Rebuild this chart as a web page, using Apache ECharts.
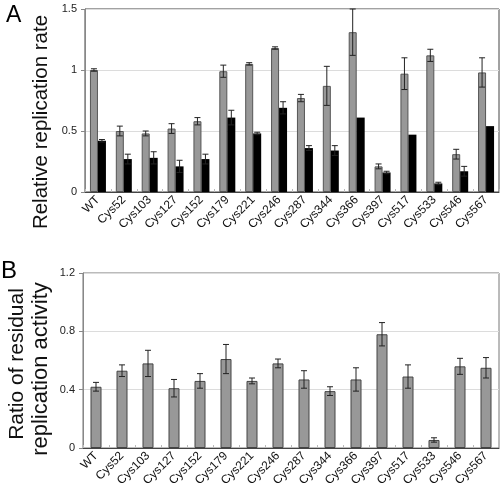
<!DOCTYPE html>
<html>
<head>
<meta charset="utf-8">
<script src="https://cdn.jsdelivr.net/npm/echarts@6/dist/echarts.min.js"></script>
<style>html,body{margin:0;padding:0;background:#fff}#c{width:500px;height:490px}</style>
</head>
<body>
<div id="c"></div>
<script>
var categories = ['WT','Cys52','Cys103','Cys127','Cys152','Cys179','Cys221','Cys246','Cys287','Cys344','Cys366','Cys397','Cys517','Cys533','Cys546','Cys567'];
var rateGray = [1.00,0.50,0.48,0.52,0.58,0.99,1.05,1.18,0.77,0.87,1.31,0.21,0.97,1.12,0.31,0.98];
var rateGrayErr = [0.01,0.04,0.02,0.04,0.03,0.05,0.01,0.01,0.03,0.16,0.19,0.02,0.13,0.05,0.04,0.12];
var rateBlack = [0.42,0.27,0.28,0.21,0.27,0.61,0.48,0.69,0.36,0.34,0.61,0.16,0.47,0.07,0.17,0.54];
var rateBlackErr = [0.01,0.04,0.05,0.05,0.04,0.06,0.01,0.05,0.02,0.04,0,0.01,0,0.01,0.04,0];
var ratio = [0.42,0.53,0.58,0.41,0.46,0.61,0.46,0.58,0.47,0.39,0.47,0.78,0.49,0.055,0.56,0.55];
var ratioErr = [0.03,0.04,0.09,0.06,0.05,0.10,0.02,0.03,0.06,0.03,0.08,0.08,0.08,0.015,0.055,0.07];
var ticksA = [0, 0.5, 1, 1.5];
var ticksB = [0, 0.4, 0.8, 1.2];
var nameA = 'Relative replication rate';
var nameB1 = 'Ratio of residual';
var nameB2 = 'replication activity';

var chart = echarts.init(document.getElementById('c'));
var FONT = '"Liberation Sans", Arial, sans-serif';
var BW_A = 8, BW_B = 11;

function errSeries(xi, yi, vals, errs, offset, ymax) {
  return {
    type: 'custom', xAxisIndex: xi, yAxisIndex: yi, z: 10, silent: true,
    data: vals.map(function (v, i) { return [i, v, errs[i]]; }),
    renderItem: function (params, api) {
      var i = api.value(0), v = api.value(1), e = api.value(2);
      if (!e) return null;
      var top = Math.min(v + e, ymax);
      var p1 = api.coord([i, top]);
      var p2 = api.coord([i, v - e]);
      var x = p1[0] + offset;
      var children = [{ type: 'line', shape: { x1: x, y1: p1[1], x2: x, y2: p2[1] }, style: { stroke: '#222', lineWidth: 1 } },
        { type: 'line', shape: { x1: x - 3, y1: p2[1], x2: x + 3, y2: p2[1] }, style: { stroke: '#222', lineWidth: 1 } }];
      if (v + e <= ymax) children.push({ type: 'line', shape: { x1: x - 3, y1: p1[1], x2: x + 3, y2: p1[1] }, style: { stroke: '#222', lineWidth: 1 } });
      return { type: 'group', children: children };
    }
  };
}

function xAx(gi) {
  return {
    type: 'category', gridIndex: gi, data: categories,
    axisLine: { lineStyle: { color: '#444', width: 1 } },
    axisTick: { show: true, inside: true, length: 3, lineStyle: { color: '#bbb' } },
    axisLabel: { rotate: 45, fontSize: 12, color: '#111', fontFamily: FONT, margin: 6, interval: 0 }
  };
}
function yAx(gi, ticks) {
  return {
    type: 'value', gridIndex: gi, min: ticks[0], max: ticks[ticks.length - 1], interval: ticks[1] - ticks[0],
    axisLine: { show: true, lineStyle: { color: '#888' } },
    axisTick: { show: true, length: 4, lineStyle: { color: '#888' } },
    axisLabel: { fontSize: 11, color: '#222', fontFamily: FONT, margin: 8 },
    splitLine: { lineStyle: { color: '#dcdcdc' } }
  };
}
function vText(text, x, y, size) {
  return { type: 'text', x: x, y: y, rotation: Math.PI / 2,
    style: { text: text, fontSize: size, fill: '#111', fontFamily: FONT, align: 'center', verticalAlign: 'middle', textAlign: 'center', textVerticalAlign: 'middle' } };
}

chart.setOption({
  animation: false,
  backgroundColor: '#fff',
  grid: [
    { left: 85, right: 1, top: 9, height: 183, show: true, borderColor: '#444', borderWidth: 1, backgroundColor: 'transparent', containLabel: false, outerBoundsMode: 'none' },
    { left: 83, right: 1, top: 273, height: 175, show: true, borderColor: '#777', borderWidth: 1, backgroundColor: 'transparent', containLabel: false, outerBoundsMode: 'none' }
  ],
  graphic: [
    { type: 'text', left: 6, top: 4, style: { text: 'A', fontSize: 23, fill: '#000', fontFamily: FONT } },
    { type: 'text', left: 1, top: 259, style: { text: 'B', fontSize: 24, fill: '#000', fontFamily: FONT } },
    vText(nameA, 41, 122, 20.5),
    vText(nameB1, 17, 364, 21),
    vText(nameB2, 41, 369, 22)
  ],
  xAxis: [xAx(0), xAx(1)],
  yAxis: [yAx(0, ticksA), yAx(1, ticksB)],
  series: [
    { type: 'bar', xAxisIndex: 0, yAxisIndex: 0, data: rateGray, barWidth: BW_A, barGap: '0%',
      itemStyle: { color: '#989898', borderColor: '#555', borderWidth: 1 } },
    { type: 'bar', xAxisIndex: 0, yAxisIndex: 0, data: rateBlack, barWidth: BW_A, barGap: '0%',
      itemStyle: { color: '#000' } },
    errSeries(0, 0, rateGray, rateGrayErr, -BW_A / 2, 1.5),
    errSeries(0, 0, rateBlack, rateBlackErr, BW_A / 2, 1.5),
    { type: 'bar', xAxisIndex: 1, yAxisIndex: 1, data: ratio, barWidth: BW_B,
      itemStyle: { color: '#989898', borderColor: '#444', borderWidth: 1 } },
    errSeries(1, 1, ratio, ratioErr, 0, 1.2)
  ]
});
</script>
</body>
</html>
